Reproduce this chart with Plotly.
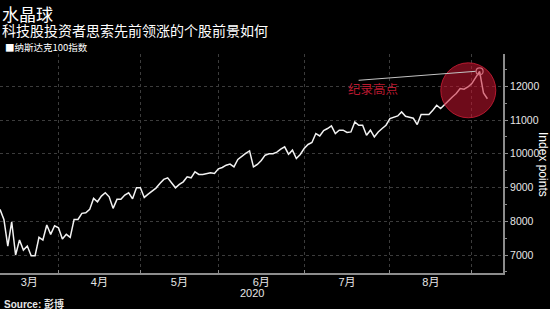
import numpy as np
import pandas as pd
import plotly.graph_objects as go

# ---------------- data ----------------
series_name = "纳斯达克100指数"
start_date, end_date = "2020-03-10", "2020-09-04"
market_holidays = ["2020-04-10", "2020-05-25", "2020-07-03"]
values = [
    8352, 8056, 7266, 7985, 7000, 7444, 7148, 7266, 6979, 6979,
    7524, 7444, 7888, 7612, 7867, 7808, 7473, 7612, 7524, 8056,
    8056, 8234, 8252, 8352, 8678, 8578, 8746, 8844, 8725, 8382,
    8649, 8649, 8776, 8844, 8666, 8992, 8992, 8707, 8805, 8903,
    8983, 9122, 9240, 9287, 9122, 8992, 9092, 9169, 9317, 9287,
    9465, 9388, 9388, 9418, 9435, 9418, 9554, 9595, 9663, 9693,
    9613, 9832, 9929, 10009, 10087, 9613, 9684, 9802, 9959, 9998,
    10003, 10048, 10137, 10205, 9988, 10107, 9861, 9980, 10157, 10276,
    10335, 10601, 10530, 10690, 10749, 10826, 10601, 10699, 10699, 10631,
    10648, 10944, 10847, 10847, 10551, 10699, 10500, 10648, 10749, 10847,
    11045, 11092, 11122, 11240, 11113, 11083, 11053, 10867, 11163, 11163,
    11163, 11291, 11439, 11341, 11459, 11586, 11684, 11785, 11933, 11912,
    11980, 12081, 12278, 12444, 11800, 11630,
]
y_ticks = [7000, 8000, 9000, 10000, 11000, 12000]
y_tick_labels = ["7000", "8000", "9000", "10000", "11000", "12000"]
title = "水晶球"
subtitle = "科技股投资者思索先前领涨的个股前景如何"
peak_label = "纪录高点"
y_title = "Index points"
year_label = "2020"
source = "<b>Source:</b> <b>彭博</b>"

# ---------------- derived ----------------
dates = pd.bdate_range(start_date, end_date)
dates = dates[~dates.isin(pd.to_datetime(market_holidays))]
idx = np.arange(len(values))
months = dates.month[: len(values)]
month_ids = sorted(set(months))
last_idx = [int(idx[months == m].max()) for m in month_ids]
x_range = [0, 129]

bounds = [x for x, m in zip(last_idx, month_ids) if m != month_ids[-1]]
centers, labels = [], []
prev = x_range[0]
for m, li in zip(month_ids, last_idx):
    if m == month_ids[-1]:
        break
    centers.append((prev + li) / 2)
    labels.append(f"{m}月")
    prev = li

peak_i = int(np.argmax(values))
peak_v = values[peak_i]

W, H = 550, 309
ML, MR, MT, MB = 0, 47, 54, 36
PW, PH = W - ML - MR, H - MT - MB


def px(xp):
    return (xp - ML) / PW


def py(yp):
    return (H - MB - yp) / PH


LAT = "Liberation Sans, Noto Sans CJK SC, sans-serif"
CJK = "Noto Sans CJK SC, sans-serif"
GRID = "#3c3c3c"
AXIS = "#8c8c8c"
RED = "#b8192f"

fig = go.Figure()
fig.add_trace(go.Scatter(
    x=idx, y=values, mode="lines", name=series_name,
    line=dict(color="#f2f2f2", width=1.5), showlegend=False,
    hoverinfo="skip",
))
fig.add_trace(go.Scatter(
    x=[peak_i], y=[peak_v], mode="markers", showlegend=False,
    marker=dict(symbol="circle-open", size=7, color="#d8d8d8",
                line=dict(width=1.2, color="#d8d8d8")),
    hoverinfo="skip",
))

# highlight circle (anchored to the peak point, sized in pixels)
fig.add_shape(
    type="circle", xref="x", yref="y",
    xsizemode="pixel", ysizemode="pixel",
    xanchor=peak_i, yanchor=peak_v,
    x0=-38.8, x1=16.2, y0=-46.5, y1=8.5,
    fillcolor="rgba(200,20,48,0.55)",
    line=dict(color="rgba(210,30,55,0.8)", width=1),
    layer="above",
)
# leader line from label to the peak
fig.add_shape(
    type="line", xref="x", yref="y",
    xsizemode="pixel", ysizemode="pixel",
    xanchor=peak_i, yanchor=peak_v,
    x0=-121, y0=-9, x1=-4, y1=0,
    line=dict(color="#c4c4c4", width=1),
    layer="above",
)

annotations = [
    dict(text=title, x=px(1), y=py(0), xref="paper", yref="paper",
         xanchor="left", yanchor="top", showarrow=False, borderpad=0,
         font=dict(family=CJK, size=17, color="#ffffff")),
    dict(text=subtitle, x=px(1), y=py(30), xref="paper", yref="paper",
         xanchor="left", yanchor="middle", showarrow=False, borderpad=0,
         font=dict(family=CJK, size=14, color="#ffffff")),
    dict(text="■" + series_name, x=px(3), y=py(46.5), xref="paper", yref="paper",
         xanchor="left", yanchor="middle", showarrow=False,
         font=dict(family=CJK, size=9.5, color="#ffffff")),
    dict(text=y_title, x=px(543), y=py(164), xref="paper", yref="paper",
         xanchor="center", yanchor="middle", showarrow=False, textangle=90,
         font=dict(family=LAT, size=12, color="#ffffff")),
    dict(text=year_label, x=0.5, y=py(293), xref="paper", yref="paper",
         xanchor="center", yanchor="middle", showarrow=False,
         font=dict(family=LAT, size=11, color="#e6e6e6")),
    dict(text=source, x=px(2), y=py(304), xref="paper", yref="paper",
         xanchor="left", yanchor="middle", showarrow=False,
         font=dict(family=LAT, size=10, color="#e6e6e6")),
    dict(text=peak_label, x=peak_i, y=peak_v, xref="x", yref="y",
         xshift=-107, yshift=-17, xanchor="center", yanchor="middle",
         showarrow=False,
         font=dict(family=CJK, size=12.5, color=RED)),
]

fig.update_layout(
    width=W, height=H,
    margin=dict(l=ML, r=MR, t=MT, b=MB, pad=0),
    paper_bgcolor="#000000", plot_bgcolor="#000000",
    annotations=annotations,
    xaxis=dict(
        range=x_range, tickmode="array", tickvals=centers, ticktext=labels,
        showgrid=False, zeroline=False, ticks="",
        showline=True, linecolor=AXIS, linewidth=2,
        ticklabelstandoff=-2,
        tickfont=dict(family=LAT, size=11, color="#e6e6e6"),
        minor=dict(tickmode="array", tickvals=bounds, showgrid=True,
                   gridcolor=GRID, griddash="dot", gridwidth=1,
                   ticks="inside", ticklen=3, tickcolor=AXIS),
    ),
    yaxis=dict(
        side="right", range=[6467, 12957], tickmode="array",
        tickvals=y_ticks, ticktext=y_tick_labels,
        showgrid=True, gridcolor=GRID, griddash="dot", gridwidth=1,
        zeroline=False, showline=True, linecolor=AXIS, linewidth=2,
        ticks="outside", ticklen=3, tickcolor=AXIS,
        tickfont=dict(family=LAT, size=10.5, color="#e6e6e6"),
        minor=dict(dtick=500, ticks="outside", ticklen=2, tickcolor=AXIS,
                   showgrid=False),
    ),
)

fig.write_html("out.html")
